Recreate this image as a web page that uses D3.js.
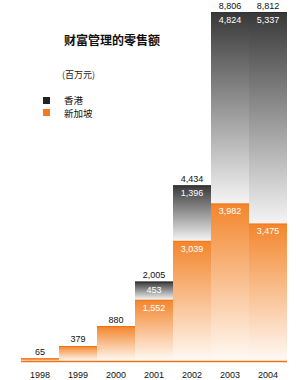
<!DOCTYPE html>
<html>
<head>
<meta charset="utf-8">
<script src="https://cdn.jsdelivr.net/npm/d3@7"></script>
<style>
  body { margin: 0; background: #fff; }
  svg { display: block; }
</style>
</head>
<body>
<div id="chart"></div>
<script>
// ===== Données =====
const years = ["1998", "1999", "2000", "2001", "2002", "2003", "2004"];
const singapore = [65, 379, 880, 1552, 3039, 3982, 3475];
const hongkong = [0, 0, 0, 453, 1396, 4824, 5337];
const totals = [null, null, null, 2005, 4434, 8806, 8812];
const seriesNames = ["香港", "新加坡"];
const title = "财富管理的零售额";
const unit = "(百万元)";

const W = 300, H = 380;
const fmt = d3.format(",");

const svg = d3.select("#chart").append("svg")
  .attr("width", W).attr("height", H);

// ===== Dégradés =====
const defs = svg.append("defs");
const gDark = defs.append("linearGradient").attr("id", "gDark")
  .attr("x1", 0).attr("y1", 0).attr("x2", 0).attr("y2", 1);
gDark.append("stop").attr("offset", "0%").attr("stop-color", "#383838");
gDark.append("stop").attr("offset", "100%").attr("stop-color", "#f4f4f4");
const gOrange = defs.append("linearGradient").attr("id", "gOrange")
  .attr("x1", 0).attr("y1", 0).attr("x2", 0).attr("y2", 1);
gOrange.append("stop").attr("offset", "0%").attr("stop-color", "#f3852b");
gOrange.append("stop").attr("offset", "100%").attr("stop-color", "#fffaf5");

// ===== Échelles =====
const data = years.map((y, i) => ({
  year: y, sg: singapore[i], hk: hongkong[i], total: totals[i]
}));
const x = d3.scaleBand().domain(years).range([21, 287]).padding(0);
const y = d3.scaleLinear()
  .domain([0, d3.max(data, (d) => d.sg + d.hk)])
  .range([361, 12]);

const bars = svg.append("g");

// Singapour (bas)
bars.selectAll("rect.sg").data(data).enter().append("rect")
  .attr("class", "sg")
  .attr("x", (d) => x(d.year))
  .attr("y", (d) => y(d.sg))
  .attr("width", x.bandwidth())
  .attr("height", (d) => y(0) - y(d.sg))
  .attr("fill", "url(#gOrange)");
bars.selectAll("line.sgTop").data(data).enter().append("line")
  .attr("x1", (d) => x(d.year)).attr("x2", (d) => x(d.year) + x.bandwidth())
  .attr("y1", (d) => y(d.sg) + 0.5).attr("y2", (d) => y(d.sg) + 0.5)
  .attr("stroke", "#f07318").attr("stroke-width", 1.2);

// Hong Kong (haut)
const hkData = data.filter((d) => d.hk > 0);
bars.selectAll("rect.hk").data(hkData).enter().append("rect")
  .attr("class", "hk")
  .attr("x", (d) => x(d.year))
  .attr("y", (d) => y(d.sg + d.hk))
  .attr("width", x.bandwidth())
  .attr("height", (d) => y(d.sg) - y(d.sg + d.hk))
  .attr("fill", "url(#gDark)");
bars.selectAll("line.hkTop").data(hkData).enter().append("line")
  .attr("x1", (d) => x(d.year)).attr("x2", (d) => x(d.year) + x.bandwidth())
  .attr("y1", (d) => y(d.sg + d.hk) + 0.5).attr("y2", (d) => y(d.sg + d.hk) + 0.5)
  .attr("stroke", "#2a2a2a").attr("stroke-width", 1);

// ligne de base
svg.append("line")
  .attr("x1", x.range()[0]).attr("x2", x.range()[1])
  .attr("y1", y(0) + 0.5).attr("y2", y(0) + 0.5)
  .attr("stroke", "#f07318").attr("stroke-width", 1.5);

// ===== Étiquettes =====
const numFont = "'Liberation Sans', Arial, sans-serif";
const labels = svg.append("g")
  .attr("font-family", numFont).attr("font-size", 9)
  .attr("text-anchor", "middle");

// valeurs au-dessus (barres simples + totaux)
labels.selectAll("text.top").data(data).enter().append("text")
  .attr("x", (d) => x(d.year) + x.bandwidth() / 2)
  .attr("y", (d) => y(d.sg + d.hk) - 3.5)
  .attr("fill", "#111")
  .text((d) => fmt(d.total != null ? d.total : d.sg));

// valeurs blanches dans les segments
labels.selectAll("text.hkIn").data(hkData).enter().append("text")
  .attr("x", (d) => x(d.year) + x.bandwidth() / 2)
  .attr("y", (d) => y(d.sg + d.hk) + 11)
  .attr("fill", "#fff")
  .text((d) => fmt(d.hk));
labels.selectAll("text.sgIn").data(hkData).enter().append("text")
  .attr("x", (d) => x(d.year) + x.bandwidth() / 2)
  .attr("y", (d) => y(d.sg) + 11)
  .attr("fill", "#fff")
  .text((d) => fmt(d.sg));

// axe des années
const axis = svg.append("g")
  .attr("transform", `translate(0,${y(0)})`)
  .call(d3.axisBottom(x).tickSize(0).tickPadding(11));
axis.select(".domain").remove();
axis.selectAll("text")
  .attr("font-family", numFont).attr("font-size", 9).attr("fill", "#111");

// ===== Titre et légende =====
const cjk = "'Noto Sans CJK SC', sans-serif";
svg.append("text")
  .attr("x", 64).attr("y", 45)
  .attr("font-family", cjk).attr("font-size", 12).attr("font-weight", "bold")
  .attr("fill", "#111").text(title);
svg.append("text")
  .attr("x", 62).attr("y", 78)
  .attr("font-family", cjk).attr("font-size", 9)
  .attr("fill", "#222").text(unit);

const legColors = ["#222222", "#f47a20"];
const leg = svg.append("g");
seriesNames.forEach((name, i) => {
  leg.append("rect")
    .attr("x", 43).attr("y", 97 + i * 12)
    .attr("width", 7).attr("height", 7)
    .attr("fill", legColors[i]);
  leg.append("text")
    .attr("x", 64).attr("y", 103.5 + i * 13.5)
    .attr("font-family", cjk).attr("font-size", 9.5)
    .attr("fill", "#111").text(name);
});
</script>
</body>
</html>
